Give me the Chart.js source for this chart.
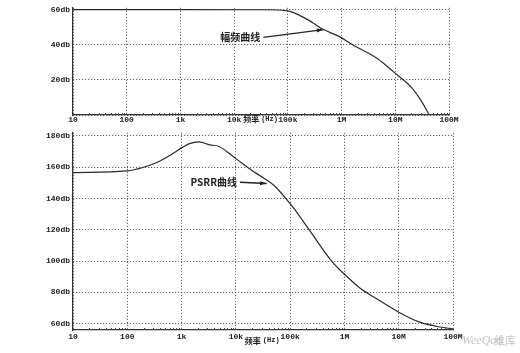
<!DOCTYPE html>
<html>
<head>
<meta charset="utf-8">
<script src="https://cdn.jsdelivr.net/npm/chart.js@4"></script>
<style>
  body { margin: 0; background: #fff; }
  #wrap { position: relative; width: 520px; height: 353px; }
  canvas { position: absolute; left: 0; }
</style>
</head>
<body>
<div id="wrap">
  <canvas id="gainChart" width="520" height="128" style="top:0"></canvas>
  <canvas id="psrrChart" width="520" height="228" style="top:125px"></canvas>
</div>
<script>
// x axis: decades
let decades = [1e1, 1e2, 1e3, 1e4, 1e5, 1e6, 1e7, 1e8]
let freqLabels = ['10', '100', '1k', '10k', '100k', '1M', '10M', '100M']

// upper chart: amplitude-frequency curve
let gainFreq = [10, 1e3, 3e4, 1e5, 1.8e5, 2.8e5, 4.6e5, 9.2e5, 1.55e6, 4.7e6, 9.4e6, 2e7, 3e7, 4.3e7]
let gainDb = [60, 60, 59.9, 59.3, 56.1, 52.8, 48.6, 44.6, 40.2, 32, 24.4, 15.7, 8.3, 0]
let gainTicks = [0, 20, 40, 60]

// lower chart: PSRR curve
let psrrFreq = [10, 100, 200, 350, 660, 1070, 1400, 2100, 3300, 4800, 1e4, 2e4, 2.8e4, 5e4, 1.07e5, 2.3e5, 5.7e5, 1.06e6, 1.9e6, 3.9e6, 1e7, 2.45e7, 5.7e7, 1e8]
let psrrDb = [156.6, 157.7, 160, 163, 168.3, 173, 175.1, 176.2, 174.3, 173.4, 165.5, 157.8, 154.5, 148.5, 135.4, 119.5, 100.4, 90.8, 83, 76, 67.4, 61, 57.9, 56.8]
let psrrTicks = [60, 80, 100, 120, 140, 160, 180]

let tickFont = { family: 'Liberation Mono', size: 8, weight: 'bold' }
let gridColor = '#444'

function toPoints(xs, ys) {
    return xs.map(function(x, i) { return { x: x, y: ys[i] } })
}

// draws the arrow + label, the axis title and the small log ticks
let decorPlugin = {
    id: 'decor',
    afterDraw: function(chart) {
        let opts = chart.options.plugins.decor
        let ctx = chart.ctx
        let xs = chart.scales.x
        let ys = chart.scales.y
        let area = chart.chartArea
        ctx.save()

        // minor log ticks on the x axis
        ctx.strokeStyle = '#444'
        ctx.lineWidth = 1
        for (let d = 10; d < 1e8; d *= 10) {
            for (let m = 2; m <= 9; m++) {
                let px = Math.round(xs.getPixelForValue(d * m)) + 0.5
                ctx.beginPath()
                ctx.moveTo(px, area.bottom)
                ctx.lineTo(px, area.bottom - 2)
                ctx.stroke()
            }
        }

        // arrow annotation
        let a = opts.arrow
        let x1 = xs.getPixelForValue(a.from[0]), y1 = ys.getPixelForValue(a.from[1])
        let x2 = xs.getPixelForValue(a.to[0]), y2 = ys.getPixelForValue(a.to[1])
        ctx.strokeStyle = '#222'
        ctx.fillStyle = '#222'
        ctx.lineWidth = 1.3
        ctx.beginPath()
        ctx.moveTo(x1, y1)
        ctx.lineTo(x2, y2)
        ctx.stroke()
        let ang = Math.atan2(y2 - y1, x2 - x1)
        ctx.beginPath()
        ctx.moveTo(x2, y2)
        ctx.lineTo(x2 - 7 * Math.cos(ang - 0.3), y2 - 7 * Math.sin(ang - 0.3))
        ctx.lineTo(x2 - 7 * Math.cos(ang + 0.3), y2 - 7 * Math.sin(ang + 0.3))
        ctx.closePath()
        ctx.fill()
        ctx.font = 'bold 10px "Noto Sans CJK SC"'
        ctx.textAlign = 'right'
        ctx.textBaseline = 'middle'
        ctx.fillText(a.text, x1 - 3, y1)

        // axis title next to the 10k label
        let tx = xs.getPixelForValue(1e4) + 9
        let ty = area.bottom + opts.titleDy
        ctx.textAlign = 'left'
        ctx.font = 'bold 8px "Noto Sans CJK SC"'
        ctx.fillText('频率', tx, ty)
        ctx.font = 'bold 7px "Liberation Mono"'
        ctx.fillText('(Hz)', tx + 18, ty)

        if (opts.watermark) {
            ctx.font = 'italic 12px "Liberation Serif"'
            ctx.fillStyle = '#c4c4c4'
            ctx.fillText('WeeQoo', 462, 216)
            ctx.font = '11px "Noto Sans CJK SC"'
            ctx.fillText('维库', 494, 216)
        }
        ctx.restore()
    }
}

function makeChart(id, xs, ys, yMin, yMax, yTicks, padRight, padTop, xHeight, xPad, decor) {
    let ctx = document.getElementById(id).getContext('2d')
    return new Chart(ctx, {
        type: 'line',
        data: {
            datasets: [{
                data: toPoints(xs, ys),
                borderColor: '#2a2a2a',
                borderWidth: 1.2,
                pointRadius: 0,
                cubicInterpolationMode: 'monotone',
                fill: false
            }]
        },
        options: {
            responsive: false,
            animation: false,
            devicePixelRatio: 1,
            layout: { padding: { left: 0, right: padRight, top: padTop, bottom: 0 } },
            plugins: { legend: { display: false }, tooltip: { enabled: false }, decor: decor },
            scales: {
                x: {
                    type: 'logarithmic',
                    min: 10,
                    max: 1e8,
                    afterBuildTicks: function(scale) {
                        scale.ticks = decades.map(function(v) { return { value: v } })
                    },
                    afterFit: function(scale) { scale.height = xHeight },
                    ticks: {
                        autoSkip: false,
                        maxRotation: 0,
                        padding: xPad,
                        color: '#222',
                        font: tickFont,
                        callback: function(v) {
                            let i = decades.indexOf(v)
                            return i >= 0 ? freqLabels[i] : ''
                        }
                    },
                    grid: { color: gridColor, drawTicks: false, tickLength: 0 },
                    border: { display: true, color: '#333', width: 1.2, dash: [1, 2] }
                },
                y: {
                    min: yMin,
                    max: yMax,
                    afterBuildTicks: function(scale) {
                        scale.ticks = yTicks.map(function(v) { return { value: v } })
                    },
                    afterFit: function(scale) { scale.width = 73 },
                    ticks: {
                        padding: 3,
                        color: '#222',
                        font: tickFont,
                        callback: function(v) { return v === 0 ? '' : v + 'db' }
                    },
                    grid: { color: gridColor, drawTicks: false, tickLength: 0 },
                    border: { display: true, color: '#333', width: 1.2, dash: [1, 2] }
                }
            }
        },
        plugins: [decorPlugin]
    })
}

let gainChart = makeChart('gainChart', gainFreq, gainDb, 0, 61, gainTicks, 71, 3, 13, 0, {
    arrow: { from: [3.5e4, 44.2], to: [4.6e5, 48.6], text: '幅频曲线' },
    titleDy: 4,
    watermark: false
})

let psrrChart = makeChart('psrrChart', psrrFreq, psrrDb, 56, 182, psrrTicks, 67, 7, 23, 2, {
    arrow: { from: [1.19e4, 150.4], to: [3.7e4, 149.6], text: 'PSRR曲线' },
    titleDy: 10.5,
    watermark: true
})
</script>
</body>
</html>
